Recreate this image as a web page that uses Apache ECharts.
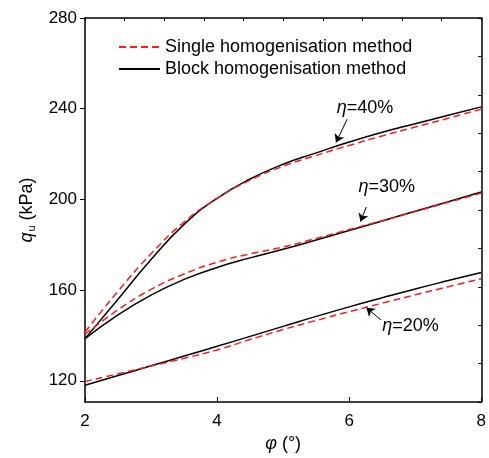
<!DOCTYPE html>
<html lang="en" style="height: 100%">
<head>
    <meta charset="UTF-8">
    <title>qu vs phi</title>
    <script src="https://cdn.jsdelivr.net/npm/echarts@6/dist/echarts.min.js"></script>
</head>
<body style="height: 100%; margin: 0">
<div id="main" style="width: 489px; height: 458px"></div>
<script>
    // friction angle (deg)
    var phi = [2, 2.5, 3, 3.5, 4, 4.5, 5, 5.5, 6, 6.5, 7, 7.5, 8];
    // single homogenisation method
    var single20 = [119.7, 123.1, 126.5, 129.9, 133.6, 138.2, 142.6, 146.6, 150.5, 154.2, 157.9, 161.5, 165.0];
    var single30 = [140.5, 151.3, 160.3, 167.1, 172.3, 176.0, 179.0, 182.8, 186.7, 190.6, 194.6, 198.7, 202.8];
    var single40 = [141.5, 159.5, 176.0, 190.0, 200.5, 208.5, 214.6, 219.4, 223.8, 228.0, 231.9, 235.8, 239.8];
    // block homogenisation method
    var block20 = [118.0, 122.3, 126.6, 130.9, 135.2, 139.6, 144.0, 148.4, 152.6, 156.6, 160.5, 164.2, 167.8];
    var block30 = [138.6, 149.1, 157.8, 164.7, 170.0, 174.2, 178.0, 182.1, 186.3, 190.5, 194.8, 199.0, 203.3];
    var block40 = [138.6, 156.0, 173.5, 189.0, 200.5, 209.0, 215.5, 220.5, 225.3, 229.6, 233.4, 237.1, 240.8];
    var yTicks = [120, 160, 200, 240, 280];

    var font = 'Liberation Sans, Arial, sans-serif';

    function pairs(ys) {
        return phi.map(function (x, i) { return [x, ys[i]]; });
    }

    // arrow + label for each eta curve
    function note(text, tx, ty, x1, y1, x2, y2) {
        return {
            markLine: {
                silent: true,
                symbol: ['none', 'arrow'],
                symbolSize: 8,
                label: {show: false},
                lineStyle: {color: '#000', width: 1, type: 'solid'},
                data: [[{coord: [x1, y1]}, {coord: [x2, y2]}]]
            },
            markPoint: {
                silent: true,
                symbol: 'circle',
                symbolSize: 1,
                itemStyle: {color: 'rgba(0,0,0,0)'},
                label: {
                    show: true,
                    position: 'inside',
                    formatter: '{i|η}=' + text,
                    color: '#000',
                    fontSize: 18,
                    fontFamily: font,
                    rich: {i: {fontStyle: 'italic', fontSize: 18, fontFamily: font, color: '#000'}}
                },
                data: [{coord: [tx, ty]}]
            }
        };
    }

    function line(name, ys, color, dashed, extra) {
        var s = {
            name: name,
            type: 'line',
            xAxisIndex: 0,
            yAxisIndex: 0,
            smooth: true,
            symbol: 'none',
            animation: false,
            lineStyle: {color: color, width: 1.5, type: dashed ? [7, 4] : 'solid'},
            itemStyle: {color: color},
            data: pairs(ys)
        };
        if (extra) {
            s.markLine = extra.markLine;
            s.markPoint = extra.markPoint;
        }
        return s;
    }

    var SINGLE = 'Single homogenisation method';
    var BLOCK = 'Block homogenisation method';

    var option = {
        animation: false,
        grid: {left: 85, right: 3, top: 18, bottom: 47},
        legend: {
            data: [SINGLE, BLOCK],
            orient: 'vertical',
            left: 113,
            top: 33,
            itemWidth: 41,
            itemHeight: 14,
            itemGap: 4,
            itemStyle: {opacity: 0},
            textStyle: {fontSize: 18, fontFamily: font, color: '#000'}
        },
        xAxis: [
            {
                type: 'value',
                min: 2,
                max: 8,
                interval: 2,
                name: '{i|φ} (°)',
                nameLocation: 'middle',
                nameGap: 22,
                nameTextStyle: {
                    fontSize: 18, fontFamily: font, color: '#000',
                    rich: {i: {fontStyle: 'italic', fontSize: 18, fontFamily: font, color: '#000'}}
                },
                axisLine: {lineStyle: {color: '#000', width: 1.5}},
                axisTick: {inside: true, length: 5, lineStyle: {color: '#000'}},
                axisLabel: {fontSize: 17, fontFamily: font, color: '#000', margin: 11},
                splitLine: {show: false}
            },
            {
                type: 'value',
                position: 'top',
                min: 0,
                max: 10,
                interval: 1,
                axisLine: {show: true, lineStyle: {color: '#000', width: 1.5}},
                axisTick: {show: true, inside: true, length: 3, lineStyle: {color: '#000'}},
                axisLabel: {show: false},
                splitLine: {show: false}
            }
        ],
        yAxis: [
            {
                type: 'value',
                min: 110.6,
                max: 280,
                name: '{i|q}{s|u} (kPa)',
                nameLocation: 'middle',
                nameGap: 48,
                nameTextStyle: {
                    fontSize: 18, fontFamily: font, color: '#000',
                    rich: {
                        i: {fontStyle: 'italic', fontSize: 18, fontFamily: font, color: '#000'},
                        s: {fontSize: 11, fontFamily: font, color: '#000', padding: [9, 0, 0, 1]}
                    }
                },
                axisLine: {show: true, lineStyle: {color: '#000', width: 1.5}},
                axisTick: {show: true, inside: false, length: 5, customValues: yTicks, lineStyle: {color: '#000'}},
                axisLabel: {fontSize: 17, fontFamily: font, color: '#000', margin: 8, customValues: yTicks},
                splitLine: {show: false}
            },
            {
                type: 'value',
                position: 'right',
                min: 0,
                max: 10,
                interval: 1,
                axisLine: {show: true, lineStyle: {color: '#000', width: 1.5}},
                axisTick: {show: true, inside: true, length: 3, lineStyle: {color: '#000'}},
                axisLabel: {show: false},
                splitLine: {show: false}
            }
        ],
        series: [
            line(BLOCK, block20, '#000', false, note('20%', 6.93, 144.0, 6.48, 146.9, 6.26, 152.2)),
            line(BLOCK, block30, '#000', false, note('30%', 6.57, 205.4, 6.26, 196.7, 6.17, 190.2)),
            line(BLOCK, block40, '#000', false, note('40%', 6.24, 240.5, 5.97, 235.4, 5.80, 225.1)),
            line(SINGLE, single20, '#ff1a1a', true),
            line(SINGLE, single30, '#ff1a1a', true),
            line(SINGLE, single40, '#ff1a1a', true)
        ]
    };

    var myChart = echarts.init(document.getElementById('main'));
    myChart.setOption(option);
</script>
</body>
</html>
